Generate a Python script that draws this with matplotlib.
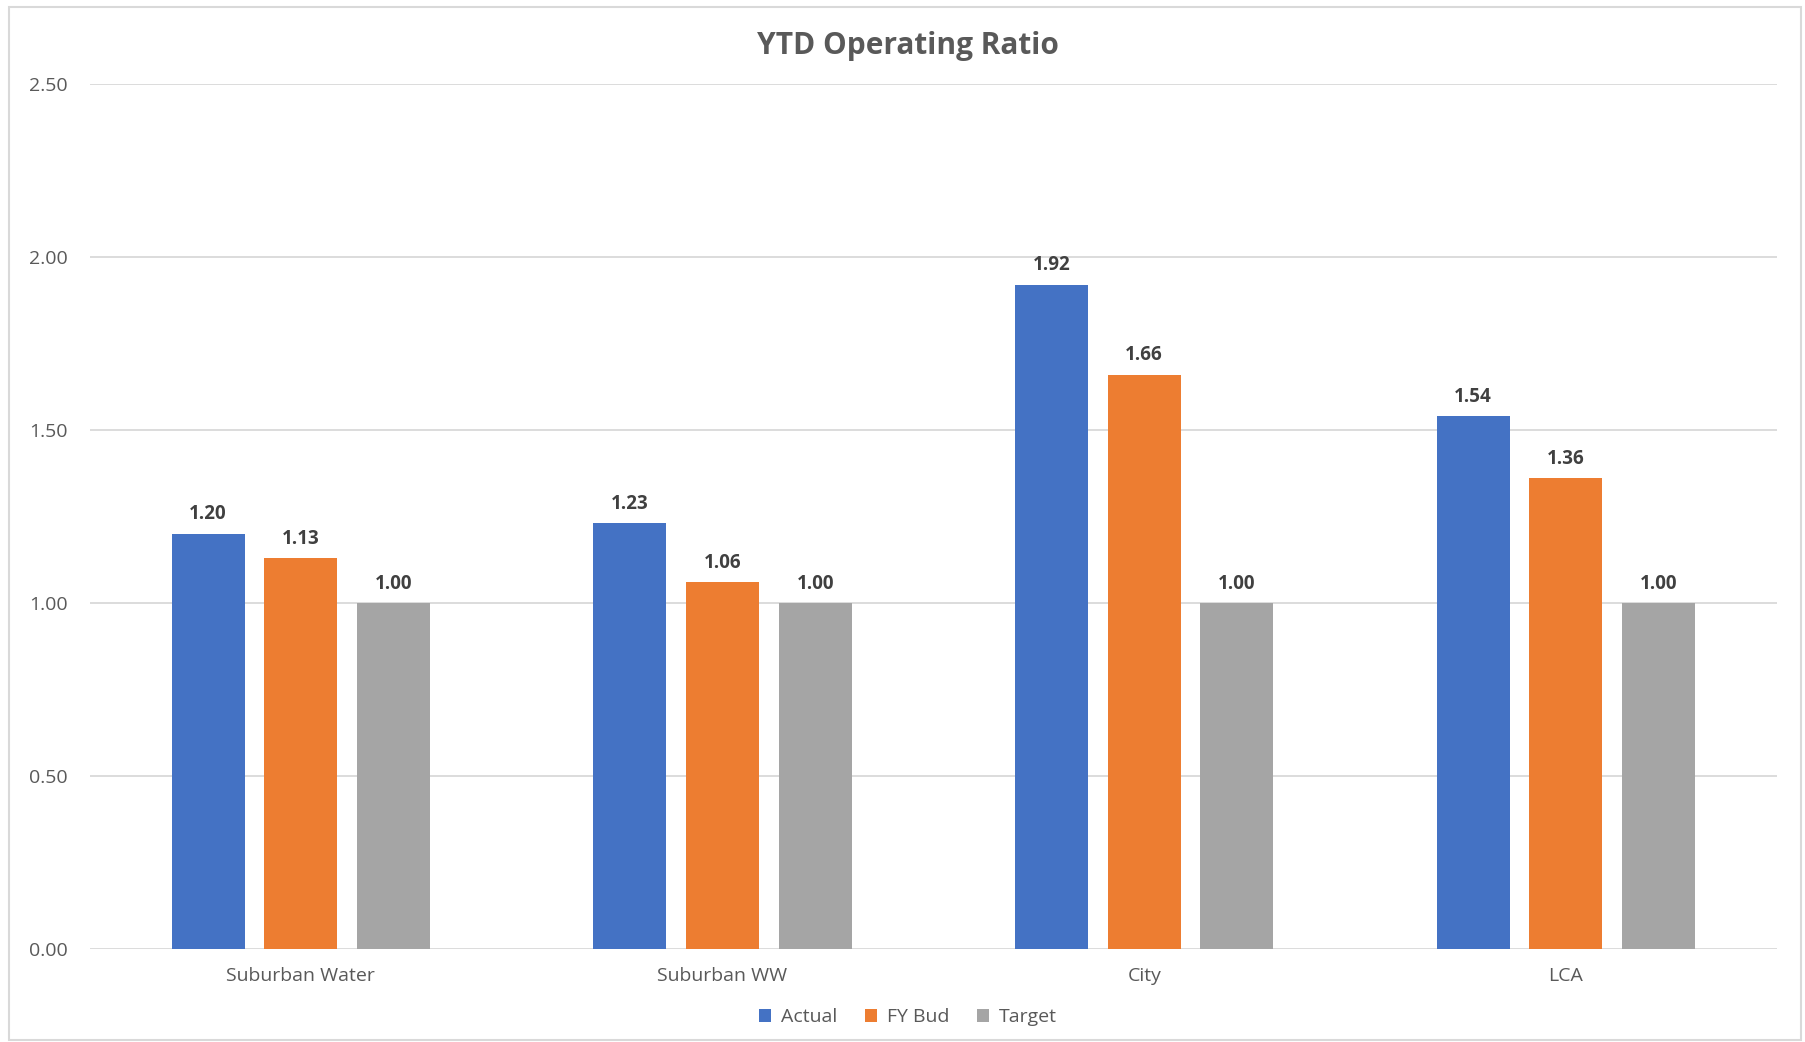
import matplotlib.pyplot as plt
from matplotlib.patches import Rectangle
import numpy as np

# Dados
categorias = ['Suburban Water', 'Suburban WW', 'City', 'LCA']
actual = [1.20, 1.23, 1.92, 1.54]
fy_bud = [1.13, 1.06, 1.66, 1.36]
target = [1.00, 1.00, 1.00, 1.00]
series_nomes = ['Actual', 'FY Bud', 'Target']
cores = ['#4472C4', '#ED7D31', '#A5A5A5']

plt.rcParams['font.family'] = ['Open Sans', 'DejaVu Sans']

fig = plt.figure(figsize=(18.05, 10.42), dpi=100)
ax = fig.add_axes([0.0499, 0.0893, 0.9344, 0.8301])

# borda do gráfico
fig.patches.append(Rectangle((0.005, 0.002), 0.993, 0.991, transform=fig.transFigure,
                             fill=False, edgecolor='#D9D9D9', linewidth=1.5))

x = np.arange(len(categorias))
largura = 0.173
deslocamento = 0.22

for i, (vals, nome, cor) in enumerate(zip([actual, fy_bud, target], series_nomes, cores)):
    pos = x + (i - 1) * deslocamento
    bars = ax.bar(pos, vals, largura, color=cor, label=nome, zorder=3)
    for b, v in zip(bars, vals):
        ax.text(b.get_x() + b.get_width() / 2, v + 0.027, f'{v:.2f}',
                ha='center', va='bottom', fontsize=13.5, fontweight='bold', color='#404040')

ax.set_xlim(-0.5, len(categorias) - 0.5)
ax.set_ylim(0, 2.5)
ax.set_yticks([0, 0.5, 1.0, 1.5, 2.0, 2.5])
ax.set_yticklabels([f'{v:.2f}' for v in [0, 0.5, 1.0, 1.5, 2.0, 2.5]])
ax.set_xticks(x)
ax.set_xticklabels(categorias)
ax.tick_params(axis='both', length=0, labelsize=14, colors='#595959')
ax.tick_params(axis='x', pad=13)
ax.tick_params(axis='y', pad=16)
ax.grid(axis='y', color='#D9D9D9', linewidth=1.3, zorder=0)
for s in ax.spines.values():
    s.set_visible(False)

fig.text(0.503, 0.956, 'YTD Operating Ratio', ha='center', va='center',
         fontsize=21.5, fontweight='bold', color='#595959')

leg = fig.legend(loc='center', bbox_to_anchor=(0.503, 0.024), ncol=3, frameon=False,
                 fontsize=14, handlelength=0.65, handleheight=0.65, handletextpad=0.5,
                 columnspacing=1.4)
for t in leg.get_texts():
    t.set_color('#595959')

plt.savefig('out.png', dpi=100)
